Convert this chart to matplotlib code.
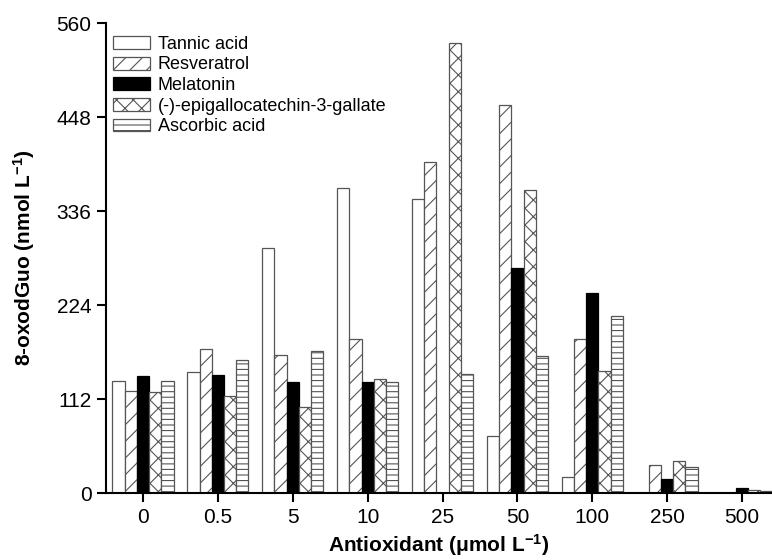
import numpy as np
import matplotlib
matplotlib.use('Agg')
import matplotlib.pyplot as plt

plt.rcParams['font.family'] = ['Liberation Sans', 'DejaVu Sans']
plt.rcParams['mathtext.fontset'] = 'custom'
plt.rcParams['mathtext.rm'] = 'Liberation Sans'
plt.rcParams['mathtext.bf'] = 'Liberation Sans:bold'
plt.rcParams['mathtext.default'] = 'bf'
plt.rcParams['hatch.linewidth'] = 0.8

# concentration groups
doses = ['0', '0.5', '5', '10', '25', '50', '100', '250', '500']

# 8-oxodGuo values, nmol/L
tannic      = [134, 144, 292, 363, 351, 68, 19, 0, 0]
resveratrol = [122, 172, 164, 183, 395, 463, 183, 33, 0]
melatonin   = [139, 141, 132, 132, 0, 268, 239, 17, 6]
egcg        = [121, 116, 102, 136, 536, 361, 146, 38, 4]
ascorbic    = [134, 158, 169, 132, 142, 163, 211, 31, 3]

series = [
    ('Tannic acid', tannic, 'white', ''),
    ('Resveratrol', resveratrol, 'white', '//'),
    ('Melatonin', melatonin, 'black', ''),
    ('(-)-epigallocatechin-3-gallate', egcg, 'white', 'xx'),
    ('Ascorbic acid', ascorbic, 'white', '---'),
]

fig = plt.figure(figsize=(7.72, 5.6), dpi=100)
ax = fig.add_axes([0.1373, 0.1196, 0.8627, 0.839])

x = np.arange(len(doses))
w = 0.163
for i, (name, vals, fc, hatch) in enumerate(series):
    ec = 'black' if fc == 'black' else '#555555'
    ax.bar(x + (i - 2) * w, vals, width=w, color=fc, edgecolor=ec,
           hatch=hatch, linewidth=0.9, label=name)

ax.set_xlim(-0.494, 8.40)
ax.set_ylim(0, 560)
ax.set_yticks([0, 112, 224, 336, 448, 560])
ax.set_xticks(x)
ax.set_xticklabels(doses)

for s in ['top', 'right']:
    ax.spines[s].set_visible(False)
for s in ['left', 'bottom']:
    ax.spines[s].set_linewidth(1.5)
ax.tick_params(direction='out', length=6.5, width=1.5, labelsize=15, pad=4)

ax.set_xlabel('Antioxidant (μmol L$^{-1}$)', fontsize=15, fontweight='bold', labelpad=4)
ax.set_ylabel('8-oxodGuo (nmol L$^{-1}$)', fontsize=15, fontweight='bold', labelpad=14)

ax.legend(loc='upper left', bbox_to_anchor=(-0.008, 1.0), frameon=False,
          fontsize=13, handlelength=2.05, handleheight=0.72,
          labelspacing=0.2, handletextpad=0.4, borderaxespad=0.3)

fig.savefig('out.png', dpi=100)
